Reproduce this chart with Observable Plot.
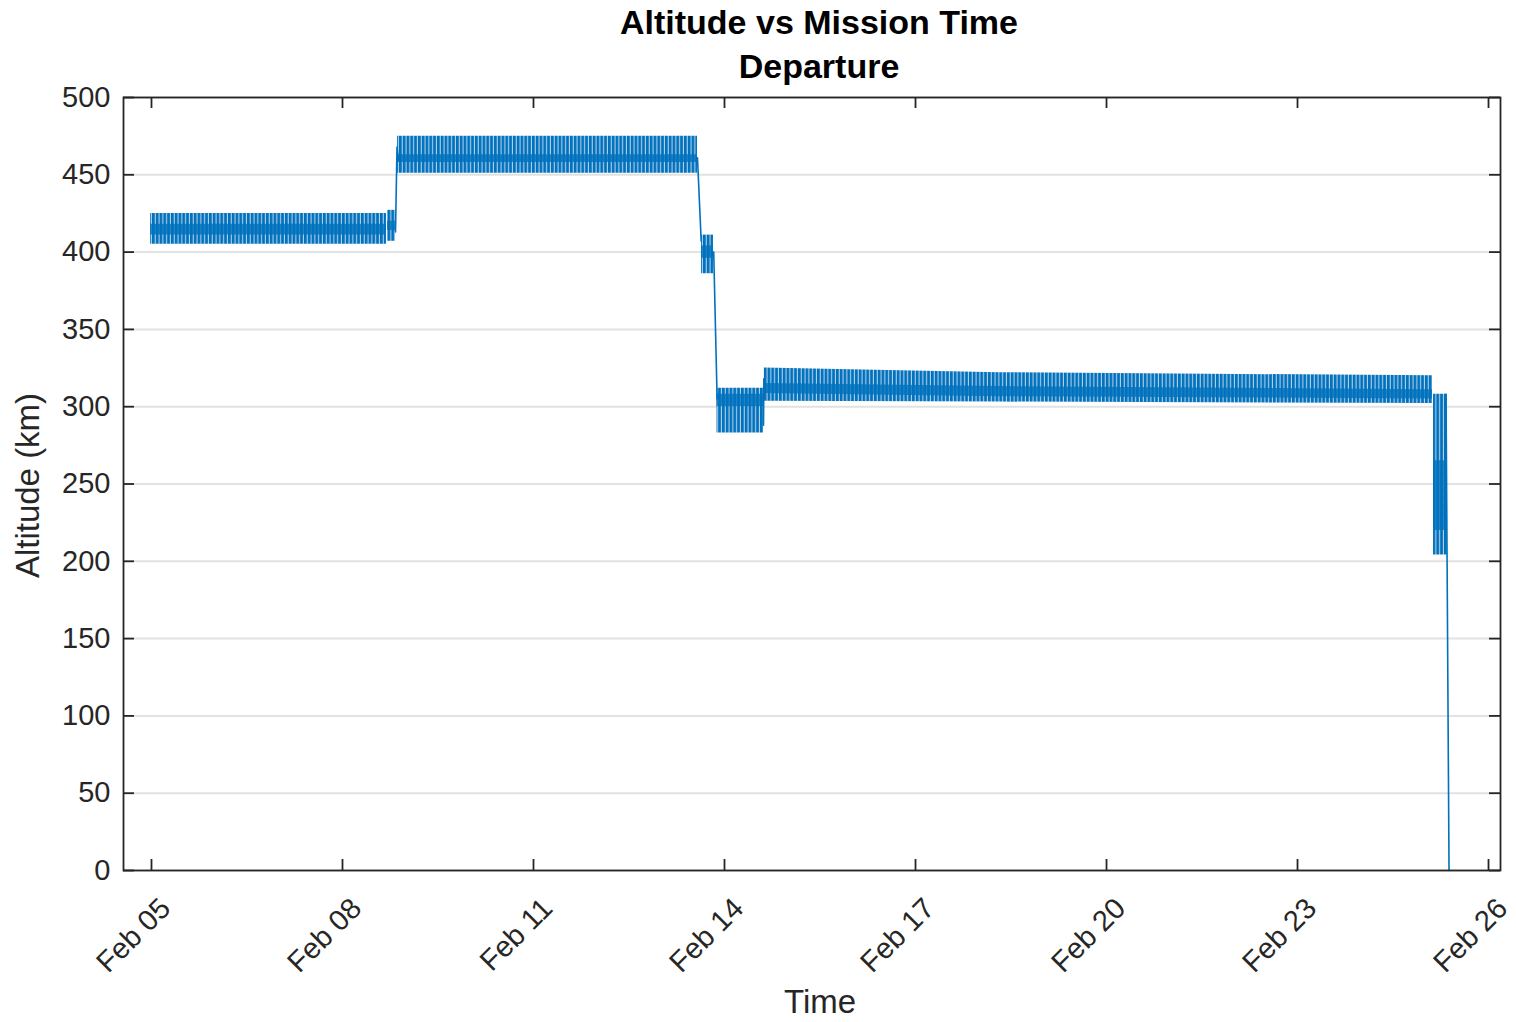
<!DOCTYPE html>
<html>
<head>
<meta charset="utf-8">
<script src="https://cdn.jsdelivr.net/npm/d3@7"></script>
<script src="https://cdn.jsdelivr.net/npm/@observablehq/plot@0.6"></script>
<style>
  html, body { margin: 0; padding: 0; background: #fff; }
  #title { width: 1516px; height: 80px; font-family: "Liberation Sans", Arial, Helvetica, sans-serif;
           font-weight: bold; font-size: 34px; color: #000; text-align: center; }
  #title .l1 { height: 44px; line-height: 44px; padding-left: 122px; }
  #title .l2 { height: 36px; line-height: 44px; padding-left: 122px; }
  #chart svg { display: block; }
</style>
</head>
<body>
<div id="title"><div class="l1">Altitude vs Mission Time</div><div class="l2">Departure</div></div>
<div id="chart"></div>
<script>
// ---- Data ----
// Orbit bands (altitude oscillates between low and high every orbit; core = densest part)
const bandPhase = ["Parking","Parking","Parking+","Parking+","Raised","Raised","Lower 1","Lower 1","Lower 2","Lower 2","Low orbit","Low orbit","Low orbit","Decay","Decay"];
const bandTime  = ["2024-02-04T23:40","2024-02-08T16:35","2024-02-08T16:58","2024-02-08T19:59","2024-02-08T20:44","2024-02-13T13:49","2024-02-13T15:20","2024-02-13T19:51","2024-02-13T21:10","2024-02-14T14:42","2024-02-14T15:00","2024-02-18T08:00","2024-02-25T02:53","2024-02-25T03:16","2024-02-25T08:30"];
const bandLow   = [405, 405, 407, 407, 451, 451, 386, 386, 283, 283, 303.5, 303, 302, 204, 204];
const bandHigh  = [425, 425, 427, 427, 475, 475, 411, 411, 312, 312, 325, 322, 320, 308, 308];
const coreLow   = [411, 411, 414, 414, 458, 458, 396, 396, 300, 300, 308.5, 306.5, 305, 220, 220];
const coreHigh  = [418, 418, 420, 420, 463, 463, 404, 404, 308, 308, 315, 313, 311, 265, 265];

// Transfer burns / re-entry trace between bands
const traceSeg  = ["A","A","A","B","B","C","C","D","D","E","E","E"];
const traceTime = ["2024-02-08T19:59","2024-02-08T20:33","2024-02-08T21:07","2024-02-13T13:49","2024-02-13T15:13","2024-02-13T19:56","2024-02-13T21:13","2024-02-14T14:42","2024-02-14T14:50","2024-02-25T07:59","2024-02-25T08:22","2024-02-25T09:07"];
const traceAlt  = [413, 468, 459, 461, 407, 400, 305, 288, 318, 308, 205, 0];

// Axes
const xTickDates = ["2024-02-05","2024-02-08","2024-02-11","2024-02-14","2024-02-17","2024-02-20","2024-02-23","2024-02-26"];
const xTickLabels = ["Feb 05","Feb 08","Feb 11","Feb 14","Feb 17","Feb 20","Feb 23","Feb 26"];
const yTicks = [0, 50, 100, 150, 200, 250, 300, 350, 400, 450, 500];
const xDomain = ["2024-02-04T13:27","2024-02-26T04:31"];
const yDomain = [0, 500];

// ---- Build tables ----
const parse = s => new Date(s + (s.length <= 10 ? "T00:00:00Z" : ":00Z"));
const bands = bandTime.map((t, i) => ({phase: bandPhase[i], t: parse(t), lo: bandLow[i], hi: bandHigh[i], c1: coreLow[i], c2: coreHigh[i]}));
const trace = traceTime.map((t, i) => ({seg: traceSeg[i], t: parse(t), alt: traceAlt[i]}));
const xTicks = xTickDates.map((d, i) => ({t: parse(d), label: xTickLabels[i]}));

const W = 1516, H = 942, mT = 17, mB = 152, mL = 123, mR = 16;
const innerH = H - mT - mB, innerW = W - mL - mR;
const blue = "#0072BD", ink = "#262626";
const font = "'Liberation Sans', Arial, Helvetica, sans-serif";

const svg = Plot.plot({
  width: W, height: H,
  marginTop: mT, marginBottom: mB, marginLeft: mL, marginRight: mR,
  style: {fontFamily: font, fontSize: "29px", color: ink, background: "#fff"},
  x: {type: "utc", domain: xDomain.map(parse), axis: null},
  y: {domain: yDomain, axis: null},
  marks: [
    Plot.ruleY(yTicks, {stroke: "#e2e2e2", strokeWidth: 2}),
    Plot.areaY(bands, {x: "t", y1: "lo", y2: "hi", z: "phase", fill: "url(#orbitStripes)", curve: "linear"}),
    Plot.areaY(bands, {x: "t", y1: "c1", y2: "c2", z: "phase", fill: blue, fillOpacity: 0.8, curve: "linear"}),
    Plot.line(trace, {x: "t", y: "alt", z: "seg", stroke: blue, strokeWidth: 1.6}),
    Plot.frame({stroke: ink, strokeWidth: 1.8}),
    Plot.ruleX(xTicks, {x: "t", insetTop: innerH - 11, stroke: ink, strokeWidth: 1.8}),
    Plot.ruleX(xTicks, {x: "t", insetBottom: innerH - 11, stroke: ink, strokeWidth: 1.8}),
    Plot.ruleY(yTicks, {insetRight: innerW - 11, stroke: ink, strokeWidth: 1.8}),
    Plot.ruleY(yTicks, {insetLeft: innerW - 11, stroke: ink, strokeWidth: 1.8}),
    Plot.text(xTicks, {x: "t", text: "label", frameAnchor: "bottom", rotate: -45, textAnchor: "end", lineAnchor: "middle", dx: 14, dy: 33, fontSize: 29, fill: ink}),
    Plot.text(yTicks, {y: d => d, text: d => String(d), frameAnchor: "left", textAnchor: "end", lineAnchor: "middle", dx: -13, fontSize: 29, fill: ink}),
    Plot.text(["Time"], {text: d => d, frameAnchor: "bottom", textAnchor: "middle", lineAnchor: "middle", dx: 8, dy: 132, fontSize: 33, fill: ink}),
    Plot.text(["Altitude (km)"], {text: d => d, frameAnchor: "left", rotate: -90, textAnchor: "middle", lineAnchor: "middle", dx: -95, dy: 1.5, fontSize: 33, fill: ink})
  ]
});

// Stripe pattern that renders the dense per-orbit oscillation
const defs = d3.select(svg).insert("defs", ":first-child");
const pat = defs.append("pattern").attr("id", "orbitStripes").attr("patternUnits", "userSpaceOnUse")
  .attr("width", 3.8).attr("height", 10);
pat.append("rect").attr("width", 3.8).attr("height", 10).attr("fill", "#b3d0ea");
pat.append("rect").attr("width", 2.7).attr("height", 10).attr("fill", blue);

document.getElementById("chart").appendChild(svg);
</script>
</body>
</html>
